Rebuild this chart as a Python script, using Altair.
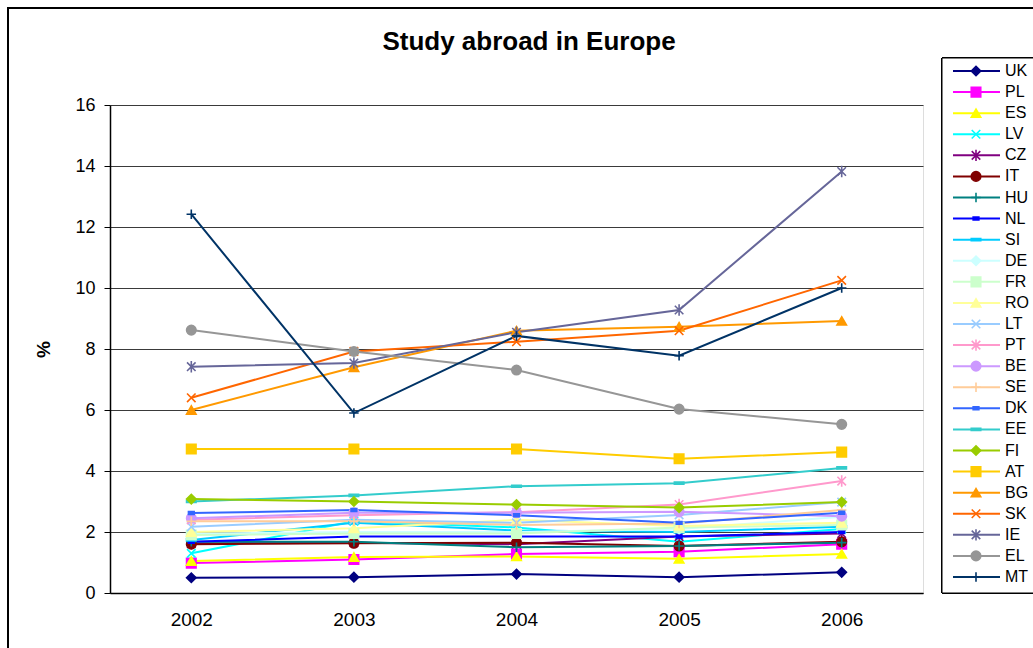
import altair as alt
import pandas as pd

TITLE = "Study abroad in Europe"
years = [2002, 2003, 2004, 2005, 2006]
countries = ["UK", "PL", "ES", "LV", "CZ", "IT", "HU", "NL", "SI", "DE", "FR", "RO", "LT",
             "PT", "BE", "SE", "DK", "EE", "FI", "AT", "BG", "SK", "IE", "EL", "MT"]

UK = [0.50, 0.52, 0.62, 0.52, 0.68]
PL = [0.98, 1.10, 1.28, 1.35, 1.60]
ES = [1.05, 1.18, 1.20, 1.12, 1.28]
LV = [1.30, 2.35, 2.15, 1.68, 2.10]
CZ = [1.62, 1.65, 1.60, 1.85, 1.95]
IT = [1.60, 1.63, 1.65, 1.54, 1.68]
HU = [1.68, 1.68, 1.50, 1.54, 1.65]
NL = [1.68, 1.85, 1.85, 1.85, 2.00]
SI = [1.74, 2.30, 2.05, 2.00, 2.17]
DE = [1.95, 2.00, 2.00, 2.10, 2.50]
FR = [1.90, 1.95, 1.95, 2.15, 2.23]
RO = [2.00, 2.12, 2.40, 2.20, 2.30]
LT = [2.17, 2.40, 2.30, 2.56, 2.98]
PT = [2.40, 2.55, 2.65, 2.90, 3.67]
BE = [2.45, 2.63, 2.63, 2.66, 2.52]
SE = [2.35, 2.35, 2.23, 2.28, 2.72]
DK = [2.62, 2.72, 2.55, 2.30, 2.63]
EE = [3.00, 3.20, 3.50, 3.60, 4.10]
FI = [3.08, 3.00, 2.90, 2.80, 2.98]
AT = [4.72, 4.72, 4.72, 4.40, 4.62]
BG = [6.00, 7.40, 8.60, 8.73, 8.92]
SK = [6.40, 7.92, 8.24, 8.60, 10.25]
IE = [7.42, 7.54, 8.55, 9.28, 13.82]
EL = [8.62, 7.92, 7.31, 6.03, 5.53]
MT = [12.42, 5.90, 8.43, 7.78, 10.00]

series = [UK, PL, ES, LV, CZ, IT, HU, NL, SI, DE, FR, RO, LT,
          PT, BE, SE, DK, EE, FI, AT, BG, SK, IE, EL, MT]

colors = ["#000080", "#FF00FF", "#FFFF00", "#00FFFF", "#800080", "#800000", "#008080",
          "#0000FF", "#00CCFF", "#CCFFFF", "#CCFFCC", "#FFFF99", "#99CCFF", "#FF99CC",
          "#CC99FF", "#FFCC99", "#3366FF", "#33CCCC", "#99CC00", "#FFCC00", "#FF9900",
          "#FF6600", "#666699", "#969696", "#003366"]

X_SHAPE = "M-0.9,-0.9L0.9,0.9M-0.9,0.9L0.9,-0.9"
STAR = "M-0.9,-0.9L0.9,0.9M-0.9,0.9L0.9,-0.9M0,-1.2L0,1.2"
PLUS = "M0,-1L0,1M-1,0L1,0"
DASH_S = "M-0.6,-0.3L0.6,-0.3L0.6,0.3L-0.6,0.3Z"
DASH_L = "M-1,-0.22L1,-0.22L1,0.22L-1,0.22Z"
shapes = ["diamond", "square", "triangle-up", X_SHAPE, STAR, "circle", PLUS, DASH_S, DASH_L,
          "diamond", "square", "triangle-up", X_SHAPE, STAR, "circle", PLUS, DASH_S, DASH_L,
          "diamond", "square", "triangle-up", X_SHAPE, STAR, "circle", PLUS]

rows = []
for c, vals in zip(countries, series):
    for y, v in zip(years, vals):
        rows.append({"country": c, "year": str(y), "value": v})
df = pd.DataFrame(rows)
legend_df = pd.DataFrame({"country": countries})
title_df = pd.DataFrame({"title": [TITLE]})

FONT = "Liberation Sans"
cscale = alt.Scale(domain=countries, range=colors)
sscale = alt.Scale(domain=countries, range=shapes)

x_enc = alt.X("year:O", title=None,
              scale=alt.Scale(type="point", padding=0.5),
              axis=alt.Axis(ticks=False, labelAngle=0, labelFontSize=19, labelFont=FONT,
                            labelColor="black", labelPadding=17, domainColor="black",
                            domainWidth=1.5, grid=False))
y_enc = alt.Y("value:Q", title="%",
              scale=alt.Scale(domain=[0, 16], nice=False),
              axis=alt.Axis(values=[0, 2, 4, 6, 8, 10, 12, 14, 16], tickSize=6,
                            tickColor="black", domainColor="black", domainWidth=1.5,
                            labelFontSize=18, labelFont=FONT, labelColor="black",
                            labelPadding=9, gridColor="#3a3a3a", gridWidth=1,
                            titleFont=FONT, titleFontSize=19, titleFontWeight="bold",
                            titleColor="black", titleAngle=-90, titleX=-67, titleY=244,
                            titleAlign="center", titleBaseline="middle"))

lines = alt.Chart(df).mark_line(strokeWidth=2).encode(
    x=x_enc, y=y_enc,
    color=alt.Color("country:N", scale=cscale, legend=None),
    order=alt.Order("year:O"),
)
points = alt.Chart(df).mark_point(filled=True, strokeWidth=1.6, opacity=1, size=90).encode(
    x=x_enc, y=y_enc,
    fill=alt.Fill("country:N", scale=cscale, legend=None),
    stroke=alt.Stroke("country:N", scale=cscale, legend=None),
    shape=alt.Shape("country:N", scale=sscale, legend=None),
)
main = alt.layer(lines, points)

frame = alt.Chart(legend_df).mark_rect(fill="transparent", stroke="black", strokeWidth=2).encode(
    x=alt.value(-102), x2=alt.value(1200), y=alt.value(-97), y2=alt.value(800))

title_mark = alt.Chart(title_df).mark_text(font=FONT, fontSize=26, fontWeight="bold",
                                           color="black", align="center",
                                           baseline="middle").encode(
    x=alt.value(419), y=alt.value(-63), text="title:N")

leg_y = alt.Y("country:N", sort=countries, title=None, axis=None,
              scale=alt.Scale(type="point", domain=countries, range=[-34, 472], padding=0))
leg_box = alt.Chart(legend_df).mark_rect(fill="white", stroke="black", strokeWidth=1).encode(
    x=alt.value(832), x2=alt.value(1100), y=alt.value(-47), y2=alt.value(488))
leg_rules = alt.Chart(legend_df).mark_rule(strokeWidth=2).encode(
    x=alt.value(843), x2=alt.value(890), y=leg_y,
    color=alt.Color("country:N", scale=cscale, legend=None))
leg_pts = alt.Chart(legend_df).mark_point(filled=True, strokeWidth=1.6, opacity=1, size=90).encode(
    x=alt.value(866), y=leg_y,
    fill=alt.Fill("country:N", scale=cscale, legend=None),
    stroke=alt.Stroke("country:N", scale=cscale, legend=None),
    shape=alt.Shape("country:N", scale=sscale, legend=None))
leg_txt = alt.Chart(legend_df).mark_text(align="left", baseline="middle", fontSize=16,
                                          font=FONT, color="black").encode(
    x=alt.value(895), y=leg_y, text="country:N")
legend = alt.layer(leg_box, leg_rules, leg_pts, leg_txt)

chart = alt.layer(frame, title_mark, main, legend).resolve_scale(y="independent").properties(
    width=813, height=488,
    autosize=alt.AutoSizeParams(type="none"),
    padding={"left": 110, "top": 105, "right": 110, "bottom": 55},
).configure_view(stroke="#808080", strokeWidth=1).configure(background="white")

chart.save("out.html", embed_options={"renderer": "svg", "actions": False})
